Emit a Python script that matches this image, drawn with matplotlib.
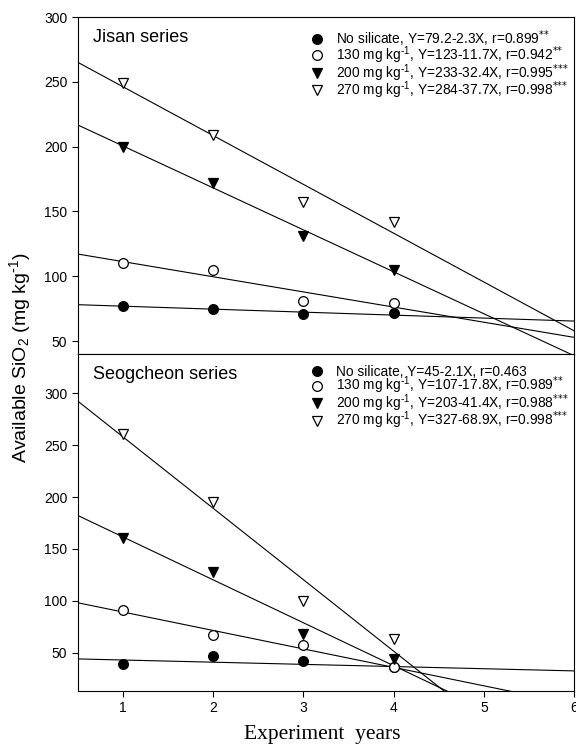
import numpy as np
import matplotlib
matplotlib.use("Agg")
import matplotlib.pyplot as plt

plt.rcParams['font.family'] = ['Liberation Sans', 'DejaVu Sans']
plt.rcParams['mathtext.default'] = 'regular'

years = [1, 2, 3, 4]
rates = ['No silicate', r'130 mg kg$^{\text{-}1}$', r'200 mg kg$^{\text{-}1}$',
         r'270 mg kg$^{\text{-}1}$']

# Jisan series
jisan = [
    [77, 75, 71, 72],
    [110, 105, 81, 79],
    [200, 172, 131, 105],
    [249, 209, 157, 142],
]
jisan_fit = [(79.2, -2.3), (123, -11.7), (233, -32.4), (284, -37.7)]
jisan_r = [r'0.899$^{\text{**}}$', r'0.942$^{\text{**}}$',
           r'0.995$^{\text{***}}$', r'0.998$^{\text{***}}$']

# Seogcheon series
seog = [
    [39, 47, 42, 36],
    [91, 67, 57, 36],
    [161, 128, 68, 44],
    [261, 195, 100, 63],
]
seog_fit = [(45, -2.1), (107, -17.8), (203, -41.4), (327, -68.9)]
seog_r = ['0.463', r'0.989$^{\text{**}}$', r'0.988$^{\text{***}}$',
          r'0.998$^{\text{***}}$']

markers = ['o', 'o', 'v', 'v']
faces = ['black', 'white', 'black', 'white']


def fmt(v):
    return ('%g' % v)


def draw_panel(ax, data, fits, rvals, title, ylim, yticks):
    xx = np.array([0.5, 6.0])
    for i in range(4):
        a, b = fits[i]
        ax.plot(xx, a + b * xx, color='black', lw=0.8, zorder=1)
        label = '%s, Y=%s-%sX, r=%s' % (rates[i], fmt(a), fmt(-b), rvals[i])
        ax.plot(years, data[i], linestyle='none', marker=markers[i],
                markerfacecolor=faces[i], markeredgecolor='black',
                markeredgewidth=0.9, markersize=7, zorder=3, label=label)
    ax.set_xlim(0.5, 6)
    ax.set_ylim(*ylim)
    ax.set_yticks(yticks)
    ax.tick_params(direction='out', length=4, labelsize=10)
    ax.text(0.03, 0.965, title, transform=ax.transAxes, fontsize=13,
            va='top', ha='left')
    ax.legend(loc='upper right', frameon=False, fontsize=9.9,
              handletextpad=0.8, labelspacing=-0.3, borderaxespad=0.4,
              handlelength=1.2, bbox_to_anchor=(1.012, 1.0))


fig = plt.figure(figsize=(5.76, 7.46), dpi=100)
ax1 = fig.add_axes([0.135, 0.5255, 0.862, 0.4515])
ax2 = fig.add_axes([0.135, 0.0737, 0.862, 0.4518], sharex=ax1)

draw_panel(ax1, jisan, jisan_fit, jisan_r, 'Jisan series', (40, 300),
           [50, 100, 150, 200, 250, 300])
draw_panel(ax2, seog, seog_fit, seog_r, 'Seogcheon series', (13, 338),
           [50, 100, 150, 200, 250, 300])

ax1.tick_params(axis='x', labelbottom=False, length=0)
ax2.set_xticks([1, 2, 3, 4, 5, 6])

fig.text(0.034, 0.52, r'Available SiO$_2$ (mg kg$^{\text{-}1}$)', rotation=90,
         va='center', ha='center', fontsize=14)
fig.text(0.56, 0.016, 'Experiment  years', ha='center', va='center',
         fontsize=15.5, family=['Liberation Serif', 'DejaVu Serif'])

fig.savefig('out.png', dpi=100)
